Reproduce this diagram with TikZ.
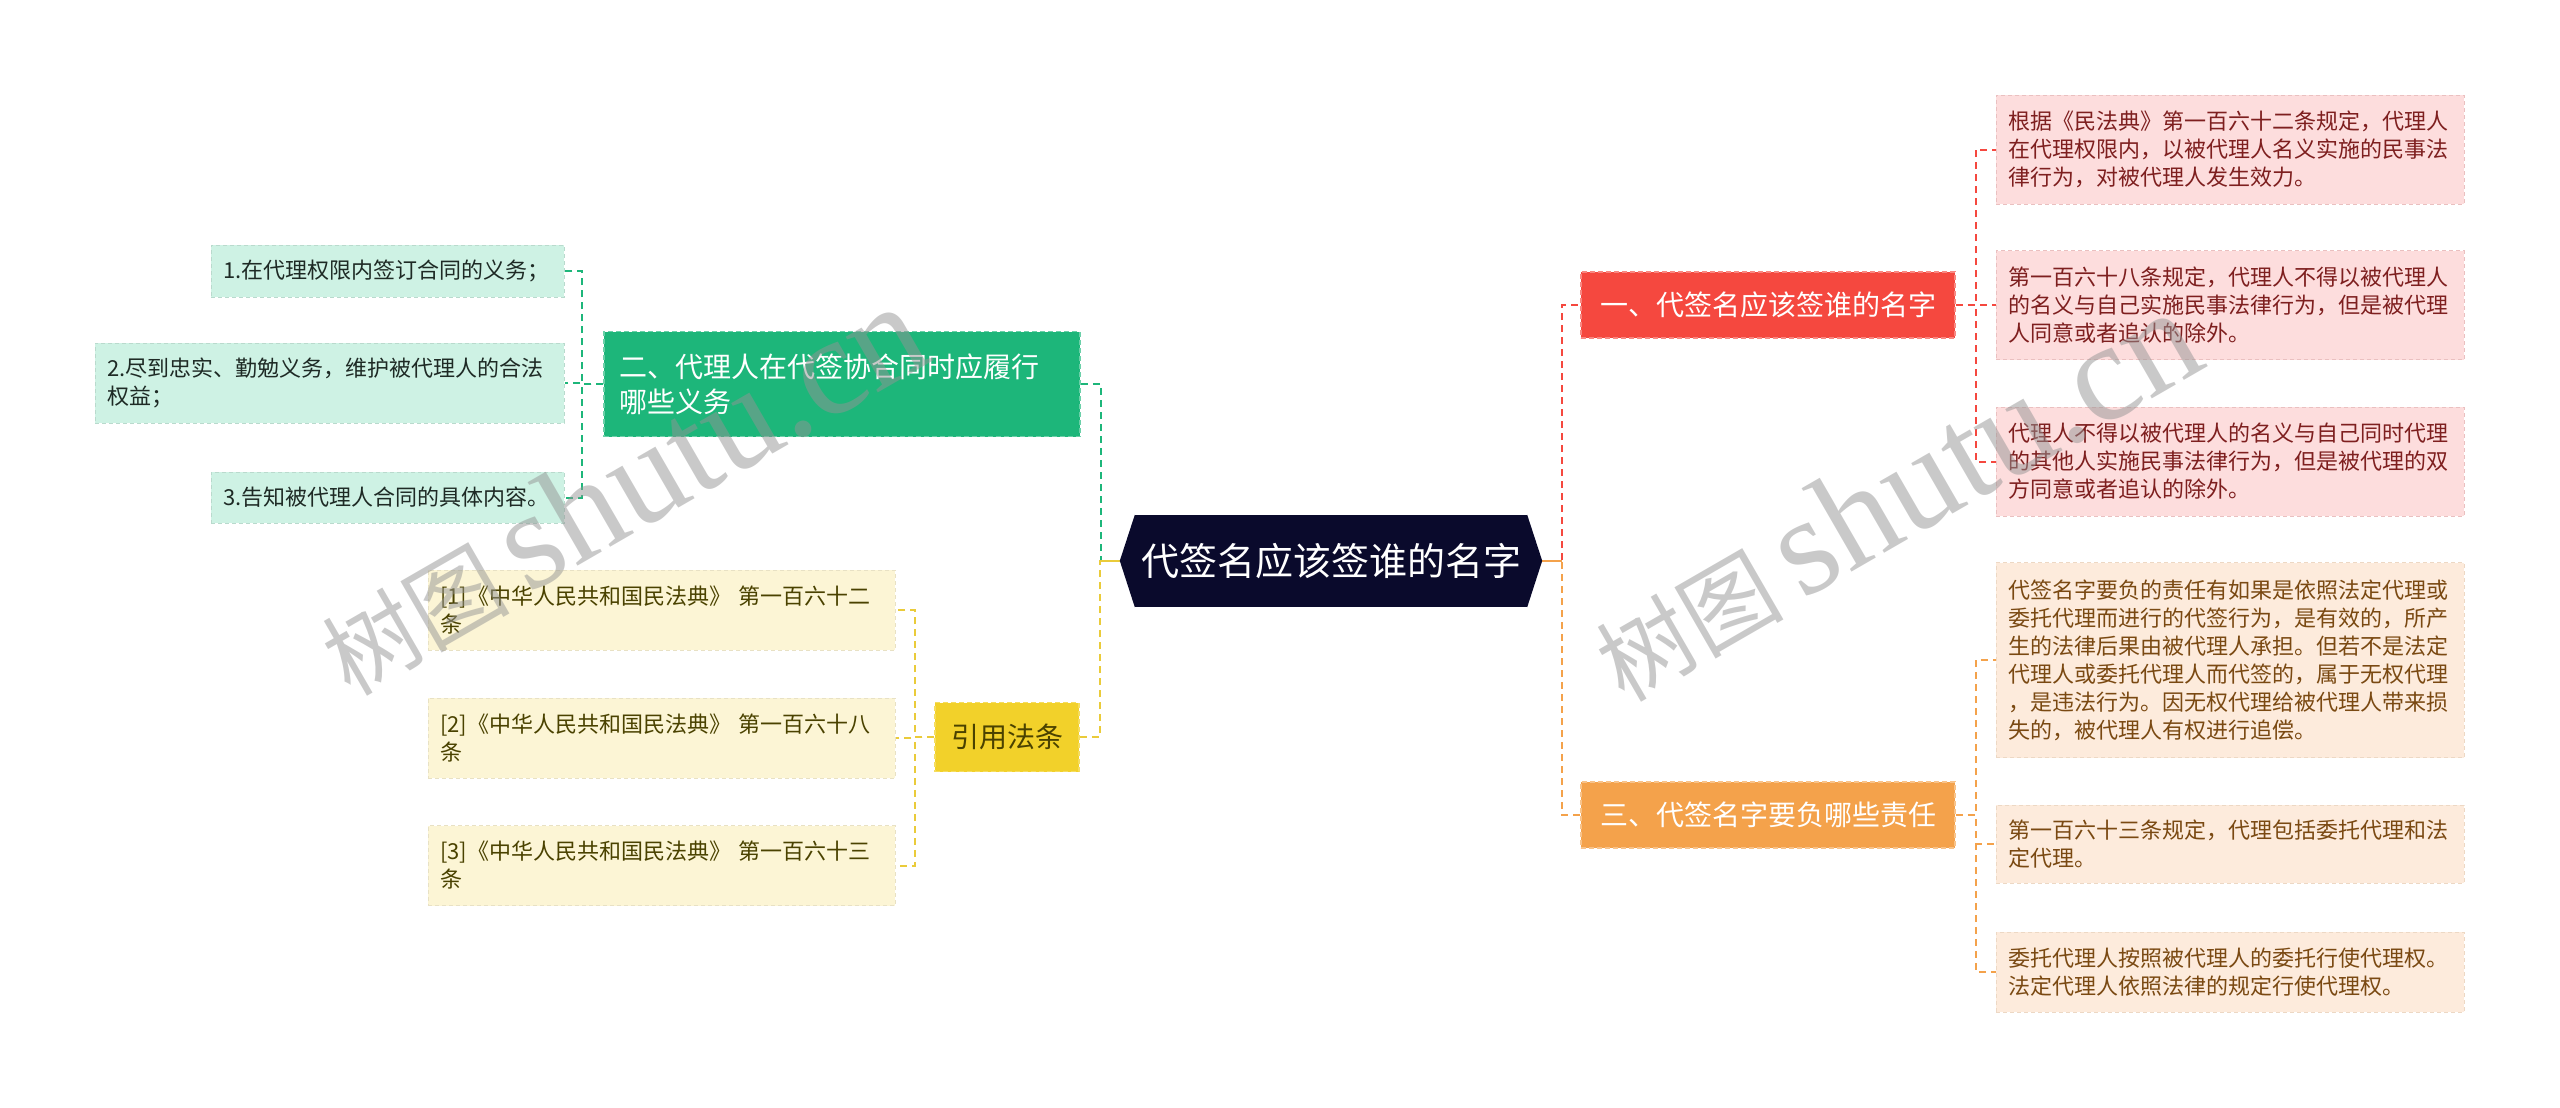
\documentclass[tikz,border=0pt]{standalone}
\usepackage{fontspec}
\setmainfont{Noto Sans CJK SC}
\newfontfamily\wmlatin{Liberation Serif}
\usetikzlibrary{backgrounds}
\definecolor{rootc}{HTML}{0A0A2C}
\definecolor{redc}{HTML}{F5483F}
\definecolor{greenc}{HTML}{1DB67A}
\definecolor{orangec}{HTML}{F4A24B}
\definecolor{yellowc}{HTML}{F2D12A}
\definecolor{yline}{HTML}{EACB3A}
\definecolor{pinkf}{HTML}{FDDDDD}
\definecolor{pinkt}{HTML}{7E1F1F}
\definecolor{peachf}{HTML}{FDEBDC}
\definecolor{peacht}{HTML}{7A4912}
\definecolor{mintf}{HTML}{CEF2E4}
\definecolor{mintt}{HTML}{1E2A25}
\definecolor{creamf}{HTML}{FCF5D5}
\definecolor{creamt}{HTML}{4A4200}
\begin{document}
\begin{tikzpicture}[x=1pt,y=-1pt,
  conn/.style={line width=2pt, dash pattern=on 7pt off 5pt},
  leaf/.style={rectangle, inner xsep=12pt, inner ysep=0pt, align=left,
    font=\fontsize{22}{28}\selectfont, line width=1pt, dash pattern=on 4pt off 3pt},
  pinkleaf/.style={leaf, fill=pinkf, draw=pinkf!85!pinkt, text=pinkt, text width=444pt, minimum height=109pt},
  peachleaf/.style={leaf, fill=peachf, draw=peachf!88!peacht, text=peacht, text width=444pt},
  mintleaf/.style={leaf, fill=mintf, draw=mintf!90!black, text=mintt},
  creamleaf/.style={leaf, fill=creamf, draw=creamf!92!black, text=creamt, text width=443pt, minimum height=80pt},
  branch/.style={rectangle, inner xsep=15pt, inner ysep=0pt,
    font=\fontsize{28}{35}\selectfont, line width=1.5pt, dash pattern=on 5pt off 3pt},
  rootbox/.style={rectangle, inner sep=0pt, minimum width=392pt, minimum height=92pt,
    fill=rootc, text=white, font=\fontsize{38}{44}\selectfont},
  wm/.style={text=black!42, opacity=0.5, inner sep=0pt}
]
\useasboundingbox (0,0) rectangle (2560,1108);

% root
\node[rootbox] (root) at (1331,561) {代签名应该签谁的名字};
\fill[rootc] (root.north west) -- ++(-15,46) -- (root.south west) -- cycle;
\fill[rootc] (root.north east) -- ++(15,46) -- (root.south east) -- cycle;

% branches
\node[branch, fill=redc, draw=redc!65!white, text=white, minimum width=374pt, minimum height=66pt]
  (r) at (1768,305) {一、代签名应该签谁的名字};
\node[branch, fill=orangec, draw=orangec!65!white, text=white, minimum width=374pt, minimum height=66pt]
  (o) at (1768,815) {三、代签名字要负哪些责任};
\node[branch, fill=greenc, draw=greenc!65!white, text=white, text width=446pt, align=left, minimum height=105pt]
  (g) at (842,384) {二、代理人在代签协合同时应履行\\哪些义务};
\node[branch, fill=yellowc, draw=yellowc!75!white, text=creamt, minimum width=144pt, minimum height=69pt]
  (y) at (1007,737) {引用法条};

% red leaves
\node[pinkleaf] (p1) at (2230,149.5) {根据《民法典》第一百六十二条规定，代理人\\在代理权限内，以被代理人名义实施的民事法\\律行为，对被代理人发生效力。};
\node[pinkleaf] (p2) at (2230,305) {第一百六十八条规定，代理人不得以被代理人\\的名义与自己实施民事法律行为，但是被代理\\人同意或者追认的除外。};
\node[pinkleaf] (p3) at (2230,461.5) {代理人不得以被代理人的名义与自己同时代理\\的其他人实施民事法律行为，但是被代理的双\\方同意或者追认的除外。};

% orange leaves
\node[peachleaf, minimum height=195pt] (o1) at (2230,660) {代签名字要负的责任有如果是依照法定代理或\\委托代理而进行的代签行为，是有效的，所产\\生的法律后果由被代理人承担。但若不是法定\\代理人或委托代理人而代签的，属于无权代理\\，是违法行为。因无权代理给被代理人带来损\\失的，被代理人有权进行追偿。};
\node[peachleaf, minimum height=78pt] (o2) at (2230,844) {第一百六十三条规定，代理包括委托代理和法\\定代理。};
\node[peachleaf, minimum height=80pt] (o3) at (2230,972) {委托代理人按照被代理人的委托行使代理权。\\法定代理人依照法律的规定行使代理权。};

% green leaves
\node[mintleaf, text width=329pt, minimum height=52pt] (gl1) at (387.5,271) {1.在代理权限内签订合同的义务；};
\node[mintleaf, text width=445pt, minimum height=80pt] (gl2) at (329.5,383) {2.尽到忠实、勤勉义务，维护被代理人的合法\\权益；};
\node[mintleaf, text width=329pt, minimum height=51pt] (gl3) at (387.5,497.5) {3.告知被代理人合同的具体内容。};

% yellow leaves
\node[creamleaf] (yl1) at (661.5,610) {[1]《中华人民共和国民法典》 第一百六十二\\条};
\node[creamleaf] (yl2) at (661.5,738) {[2]《中华人民共和国民法典》 第一百六十八\\条};
\node[creamleaf] (yl3) at (661.5,865.5) {[3]《中华人民共和国民法典》 第一百六十三\\条};

% connectors
\begin{scope}[on background layer]
\draw[conn, draw=greenc] (g.east) -- ++(20,0) |- (root.west);
\draw[conn, draw=yline] (y.east) -- ++(20,0) |- (root.west);
\draw[line width=2pt, draw=yline] (root.west) -- ++(-35,0);
\draw[conn, draw=redc] (root.east) -- ++(35,0) |- (r.west);
\draw[conn, draw=orangec] (root.east) -- ++(35,0) |- (o.west);
\draw[line width=2pt, draw=orangec] (root.east) -- ++(35,0);
\draw[conn, draw=redc] (r.east) -- ++(20,0) |- (p1.west);
\draw[conn, draw=redc] (r.east) -- ++(20,0) |- (p2.west);
\draw[conn, draw=redc] (r.east) -- ++(20,0) |- (p3.west);
\draw[conn, draw=orangec] (o.east) -- ++(20,0) |- (o1.west);
\draw[conn, draw=orangec] (o.east) -- ++(20,0) |- (o2.west);
\draw[conn, draw=orangec] (o.east) -- ++(20,0) |- (o3.west);
\draw[conn, draw=greenc] (g.west) -- ++(-21,0) |- (gl1.east);
\draw[conn, draw=greenc] (g.west) -- ++(-21,0) |- (gl2.east);
\draw[conn, draw=greenc] (g.west) -- ++(-21,0) |- (gl3.east);
\draw[conn, draw=yline] (y.west) -- ++(-19,0) |- (yl1.east);
\draw[conn, draw=yline] (y.west) -- ++(-19,0) |- (yl2.east);
\draw[conn, draw=yline] (y.west) -- ++(-19,0) |- (yl3.east);
\end{scope}

% watermarks
\node[wm, anchor=base west, rotate=30] (wm1) at (350,698)
  {{\fontsize{94}{94}\selectfont 树图}\hspace{18pt}{\wmlatin\fontsize{140}{140}\selectfont shutu.cn}};
\node[wm, anchor=base west, rotate=30] (wm2) at (1624,704)
  {{\fontsize{94}{94}\selectfont 树图}\hspace{18pt}{\wmlatin\fontsize{140}{140}\selectfont shutu.cn}};
\end{tikzpicture}
\end{document}
